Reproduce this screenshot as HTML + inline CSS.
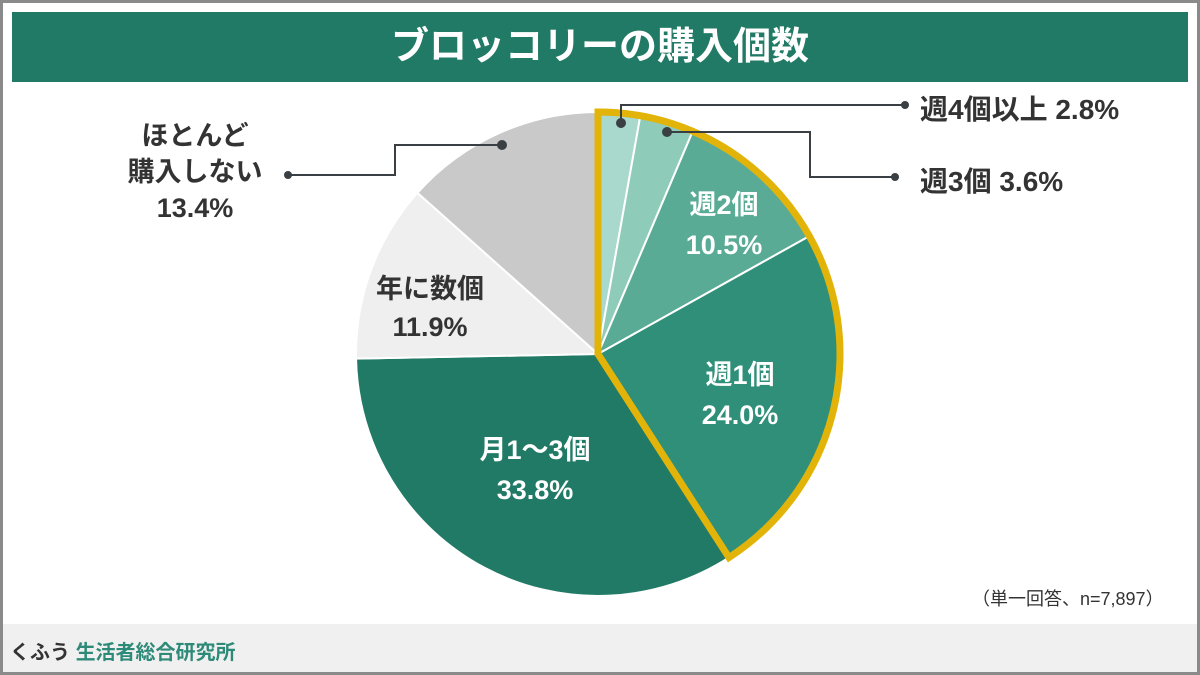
<!DOCTYPE html>
<html><head><meta charset="utf-8"><style>
html,body{margin:0;padding:0;}
body{width:1200px;height:675px;position:relative;overflow:hidden;background:#fff;font-family:"Liberation Sans","Noto Sans CJK JP",sans-serif;}
.frame{position:absolute;left:0;top:0;width:1194px;height:669px;border:3px solid #8a8a8a;background:#fff;}
.title{position:absolute;left:12px;top:12px;width:1176px;height:70px;background:#217a65;color:#fff;font-size:38px;font-weight:bold;text-align:center;line-height:70px;}
.footer{position:absolute;left:3px;top:624px;width:1194px;height:48px;background:#f0f0f0;}
.t{position:absolute;font-weight:bold;color:#333;}
</style></head><body>
<div class="frame"></div>
<div class="title">ブロッコリーの購入個数</div>
<div class="footer"></div>
<svg id="s" width="1200" height="675" style="position:absolute;left:0;top:0"></svg>
<div class="t" style="left:10px;top:636px;font-size:20px;">くふう <span style="color:#2e8a78">生活者総合研究所</span></div>
<div class="t" style="left:972px;top:585px;font-size:18px;font-weight:normal;">（単一回答、n=7,897）</div>
<div class="t" style="left:920px;top:88px;font-size:28px;">週4個以上 2.8%</div>
<div class="t" style="left:920px;top:160px;font-size:28px;">週3個 3.6%</div>
<div class="t" style="left:115px;top:118px;width:160px;text-align:center;font-size:27px;line-height:36px;">ほとんど<br>購入しない<br>13.4%</div>
<div class="t" style="left:355px;top:270px;width:150px;text-align:center;font-size:27px;line-height:38px;">年に数個<br>11.9%</div>
<div class="t" style="left:455px;top:430px;width:160px;text-align:center;font-size:27px;line-height:40px;color:#fff;">月1～3個<br>33.8%</div>
<div class="t" style="left:665px;top:355px;width:150px;text-align:center;font-size:27px;line-height:40px;color:#fff;">週1個<br>24.0%</div>
<div class="t" style="left:649px;top:185px;width:150px;text-align:center;font-size:27px;line-height:40px;color:#fff;">週2個<br>10.5%</div>
<script>
var cx=598,cy=354,r=242;
var d=[[2.8,'#a9d8cc'],[3.6,'#8fcbb9'],[10.5,'#5aab95'],[24.0,'#2f8f78'],[33.8,'#217a65'],[11.9,'#efefef'],[13.4,'#c9c9c9']];
function pt(p,rr){var a=p/100*2*Math.PI;return [cx+rr*Math.sin(a),cy-rr*Math.cos(a)];}
var s='',c=0;
d.forEach(function(e){var a=pt(c,r),b=pt(c+e[0],r);var lg=e[0]>50?1:0;
s+='<path d="M'+cx+','+cy+' L'+a[0]+','+a[1]+' A'+r+','+r+' 0 '+lg+' 1 '+b[0]+','+b[1]+' Z" fill="'+e[1]+'" stroke="#fff" stroke-width="2"/>';c+=e[0];});
var a=pt(0,r),b=pt(40.9,r);
s+='<path d="M'+cx+','+cy+' L'+a[0]+','+a[1]+' A'+r+','+r+' 0 0 1 '+b[0]+','+b[1]+' Z" fill="none" stroke="#e2b409" stroke-width="7" stroke-linejoin="miter"/>';
s+='<polyline points="621,123 621,105 905,105" fill="none" stroke="#3a3f44" stroke-width="2"/><circle cx="621" cy="123" r="5" fill="#3a3f44"/><circle cx="905" cy="105" r="4" fill="#3a3f44"/>';
s+='<polyline points="667,132 810,132 810,177 895,177" fill="none" stroke="#3a3f44" stroke-width="2"/><circle cx="667" cy="132" r="5" fill="#3a3f44"/><circle cx="895" cy="177" r="4" fill="#3a3f44"/>';
s+='<polyline points="502,145 395,145 395,175 290,175" fill="none" stroke="#3a3f44" stroke-width="2"/><circle cx="502" cy="145" r="5" fill="#3a3f44"/><circle cx="288" cy="175" r="4" fill="#3a3f44"/>';
document.getElementById('s').innerHTML=s;
</script>
</body></html>
